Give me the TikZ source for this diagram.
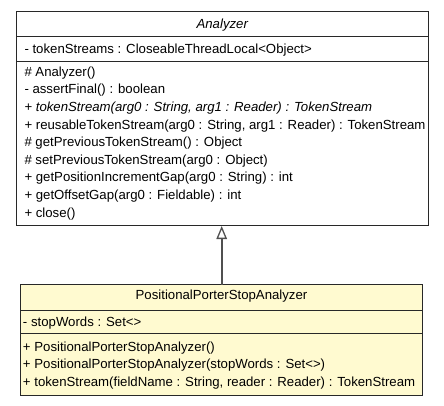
\documentclass[tikz,border=0pt]{standalone}
\usepackage{fontspec}
\setmainfont{Liberation Sans}
\usetikzlibrary{arrows.meta}
\definecolor{umlcream}{RGB}{255,250,208}
\definecolor{umledge}{RGB}{40,40,40}
\definecolor{umlconn}{RGB}{80,80,80}
\tikzset{
  umlbox/.style={draw=umledge, line width=1pt, rectangle, inner sep=0pt},
  umltext/.style={anchor=base west, inner sep=0pt, font=\fontsize{13.2}{15}\selectfont},
  umltitle/.style={anchor=base, inner sep=0pt, font=\fontsize{13.2}{15}\selectfont},
  umlsep/.style={draw=umledge, line width=1pt},
  inherit/.style={draw=umlconn, line width=1.6pt, -{Triangle[open, length=13pt, width=10.5pt, line width=1.3pt]}}
}
\begin{document}
\begin{tikzpicture}[x=1pt, y=-1pt]
\useasboundingbox (0,0) rectangle (444,405);
% Analyzer box
\node[umlbox, fill=white, minimum width=412pt, minimum height=214.5pt] (A) at (222.5,118.25) {};
\coordinate (a1l) at (16.5,36.5); \coordinate (a1r) at (428.5,36.5);
\coordinate (a2l) at (16.5,61.5); \coordinate (a2r) at (428.5,61.5);
\draw[umlsep] (a1l) -- (a1r);
\draw[umlsep] (a2l) -- (a2r);
\node[umltitle] (at) at (222.5,28) {\textit{Analyzer}};
\node[umltext] (aa1) at (24.3,53.5) {- tokenStreams : CloseableThreadLocal<Object>};
\node[umltext] (am1) at (24.3,76.2) {\# Analyzer()};
\node[umltext] (am2) at (24.3,93.8) {- assertFinal() : boolean};
\node[umltext] (am3) at (24.3,111.4) {+ \textit{tokenStream(arg0 : String, arg1 : Reader) : TokenStream}};
\node[umltext] (am4) at (24.3,129.0) {+ reusableTokenStream(arg0 : String, arg1 : Reader) : TokenStream};
\node[umltext] (am5) at (24.3,146.6) {\# getPreviousTokenStream() : Object};
\node[umltext] (am6) at (24.3,164.2) {\# setPreviousTokenStream(arg0 : Object)};
\node[umltext] (am7) at (24.3,181.8) {+ getPositionIncrementGap(arg0 : String) : int};
\node[umltext] (am8) at (24.3,199.4) {+ getOffsetGap(arg0 : Fieldable) : int};
\node[umltext] (am9) at (24.3,217.0) {+ close()};
% PositionalPorterStopAnalyzer box
\node[umlbox, fill=umlcream, minimum width=402pt, minimum height=110.5pt] (P) at (221.5,339.75) {};
\coordinate (p1l) at (20.5,310); \coordinate (p1r) at (422.5,310);
\coordinate (p2l) at (20.5,333.5); \coordinate (p2r) at (422.5,333.5);
\draw[umlsep] (p1l) -- (p1r);
\draw[umlsep] (p2l) -- (p2r);
\node[umltitle] (pt) at (221.5,299.5) {PositionalPorterStopAnalyzer};
\node[umltext] (pa1) at (22.8,326.2) {- stopWords : Set<>};
\node[umltext] (pm1) at (22.8,351.8) {+ PositionalPorterStopAnalyzer()};
\node[umltext] (pm2) at (22.8,368.8) {+ PositionalPorterStopAnalyzer(stopWords : Set<>)};
\node[umltext] (pm3) at (22.8,386.2) {+ tokenStream(fieldName : String, reader : Reader) : TokenStream};
% inheritance
\coordinate (ps) at (221.7,284.5);
\coordinate (pe) at (221.7,226);
\draw[inherit] (ps) -- (pe);
\end{tikzpicture}
\end{document}
